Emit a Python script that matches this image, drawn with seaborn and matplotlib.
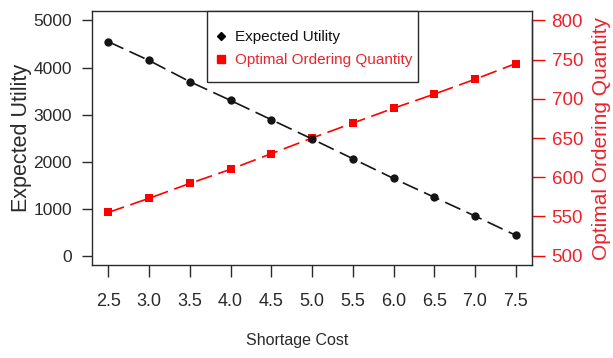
import pandas as pd
import matplotlib
matplotlib.use("Agg")
import matplotlib.pyplot as plt
import seaborn as sns
from matplotlib.lines import Line2D
from matplotlib.patches import Rectangle

# data
shortage_cost = [2.5, 3.0, 3.5, 4.0, 4.5, 5.0, 5.5, 6.0, 6.5, 7.0, 7.5]
expected_utility = [4550, 4150, 3700, 3300, 2890, 2480, 2060, 1640, 1240, 840, 430]
order_quantity = [555, 573, 592, 610, 630, 650, 669, 688, 706, 725, 745]

x_ticks = [2.5, 3.0, 3.5, 4.0, 4.5, 5.0, 5.5, 6.0, 6.5, 7.0, 7.5]
left_ticks = [0, 1000, 2000, 3000, 4000, 5000]
right_ticks = [500, 550, 600, 650, 700, 750, 800]

df = pd.DataFrame({"cost": shortage_cost,
                   "utility": expected_utility,
                   "quantity": order_quantity})

sns.set_style("white")
plt.rcParams['font.family'] = ['Liberation Sans', 'DejaVu Sans']

RED = "#ff0000"
TXT_RED = "#e8242c"
DARK = "#2a2a2a"

fig = plt.figure(figsize=(6.13, 3.58), dpi=100)
ax = fig.add_axes([0.150, 0.260, 0.718, 0.709])

sns.lineplot(data=df, x="cost", y="utility", ax=ax, color="#151515",
             marker="o", markersize=6, markeredgewidth=0, linewidth=1.2,
             linestyle=(0, (10, 4)), legend=False)

ax2 = ax.twinx()
sns.lineplot(data=df, x="cost", y="quantity", ax=ax2, color=RED,
             marker="s", markersize=6, markeredgewidth=0, linewidth=1.2,
             linestyle=(0, (10, 4)), legend=False)

# R style axis ranges (4% padding)
ax.set_xlim(2.3, 7.7)
ax.set_ylim(-200, 5200)
ax2.set_ylim(488, 812)

ax.set_xticks(x_ticks)
ax.set_xticklabels([f"{v:.1f}" for v in x_ticks])
ax.set_yticks(left_ticks)
ax2.set_yticks(right_ticks)

for s in ["left", "bottom", "top", "right"]:
    ax.spines[s].set_visible(True)
    ax.spines[s].set_color(DARK)
    ax.spines[s].set_linewidth(1.0)
for s in ["left", "bottom", "top"]:
    ax2.spines[s].set_visible(False)
ax2.spines["right"].set_visible(True)
ax2.spines["right"].set_color(RED)
ax2.spines["right"].set_linewidth(1.0)
ax2.spines["right"].set_bounds(500, 800)

ax.tick_params(axis="x", direction="out", length=8.5, width=1.0, color=DARK,
               pad=12, labelsize=13, labelcolor=DARK, bottom=True)
ax.tick_params(axis="y", direction="out", length=7.5, width=1.0, color=DARK,
               pad=7, labelsize=12.5, labelcolor=DARK, left=True)
ax2.tick_params(axis="y", direction="out", length=9, width=1.0, color=RED,
                pad=5, labelsize=13.5, labelcolor=TXT_RED, right=True)

ax.set_xlabel("Shortage Cost", fontsize=11.5, color=DARK)
ax.set_ylabel("Expected Utility", fontsize=15.5, color=DARK)
ax2.set_ylabel("Optimal Ordering Quantity", fontsize=15, color=TXT_RED)
ax.xaxis.set_label_coords(0.466, -0.27)
ax.yaxis.set_label_coords(-0.136, 0.5)
ax2.yaxis.set_label_coords(1.136, 0.5)

# legend box like R's legend(): frame drawn separately
ax.add_patch(Rectangle((0.2614, 0.7205), 0.4795, 0.2795, transform=ax.transAxes,
                       facecolor="white", edgecolor=DARK, linewidth=1.0,
                       zorder=9, clip_on=False))
handles = [
    Line2D([], [], linestyle="none", marker="D", markersize=4.5, color="black"),
    Line2D([], [], linestyle="none", marker="s", markersize=5.5, color=RED),
]
leg = ax.legend(handles, ["Expected Utility", "Optimal Ordering Quantity"],
                loc="upper left", bbox_to_anchor=(0.2898, 0.925), borderaxespad=0,
                fontsize=11, frameon=False, handlelength=0.2, handletextpad=0.82,
                borderpad=0, labelspacing=0.58)
leg.get_texts()[1].set_color(TXT_RED)
leg.get_texts()[0].set_color("#111111")
leg.set_zorder(10)
ax.set_zorder(ax2.get_zorder() + 1)
ax.patch.set_visible(False)

fig.savefig("out.png", dpi=100)
